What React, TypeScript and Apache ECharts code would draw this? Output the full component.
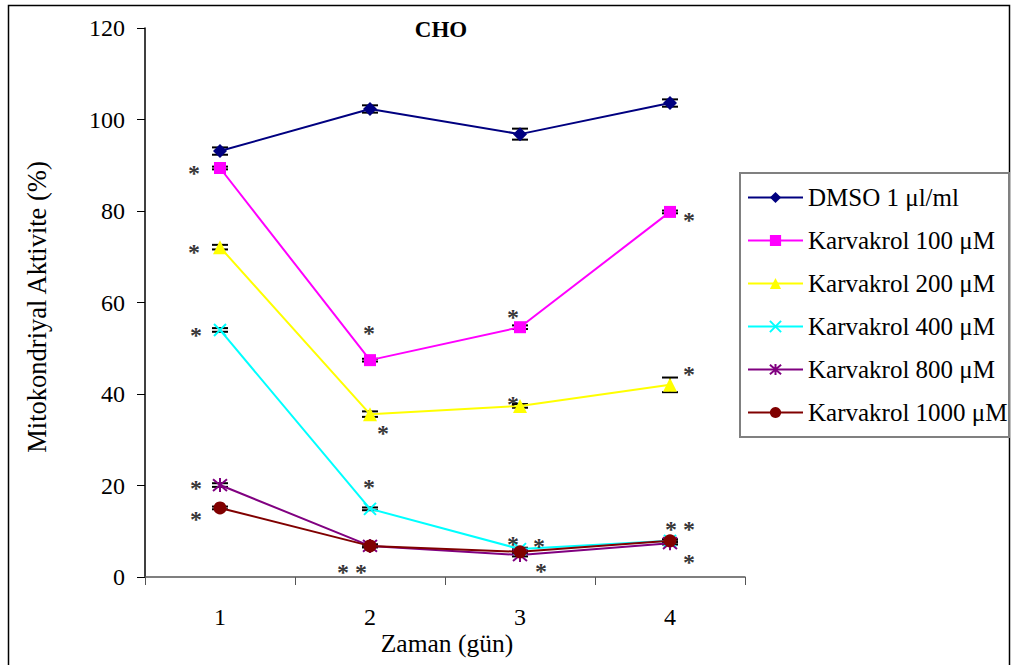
import React, { useEffect, useRef } from "react";
import * as echarts from "echarts";

// Days of measurement
const days = ["1", "2", "3", "4"];

// Series names
const seriesNames = [
  "DMSO 1 μl/ml",
  "Karvakrol 100 μM",
  "Karvakrol 200 μM",
  "Karvakrol 400 μM",
  "Karvakrol 800 μM",
  "Karvakrol 1000 μM",
];

// Mitochondrial activity (%) per day
const dmso = [93.1, 102.3, 96.8, 103.6];
const k100 = [89.4, 47.4, 54.6, 79.8];
const k200 = [72.1, 35.6, 37.4, 42.0];
const k400 = [54.0, 14.9, 6.1, 7.9];
const k800 = [20.1, 6.8, 4.8, 7.4];
const k1000 = [15.1, 6.8, 5.5, 7.9];

// Standard errors per day
const dmsoErr = [0.8, 0.8, 1.2, 0.8];
const k100Err = [0.3, 0.3, 0.4, 0.3];
const k200Err = [0.5, 0.6, 0.4, 1.6];
const k400Err = [0.4, 0.3, 0.3, 0.3];
const k800Err = [0.4, 0.3, 0.3, 0.3];
const k1000Err = [0.3, 0.3, 0.3, 0.3];

// Y axis ticks
const yMin = 0;
const yMax = 120;
const yStep = 20;

const values = [dmso, k100, k200, k400, k800, k1000];
const errors = [dmsoErr, k100Err, k200Err, k400Err, k800Err, k1000Err];

// Significance marks: day index, series index the mark sits next to, pixel offset
const stars: { day: number; s: number; dx: number; dy: number }[] = [
  { day: 0, s: 1, dx: -26, dy: -1 },
  { day: 0, s: 2, dx: -26, dy: -1 },
  { day: 0, s: 3, dx: -24, dy: -1 },
  { day: 0, s: 4, dx: -24, dy: -3 },
  { day: 0, s: 5, dx: -24, dy: 5 },
  { day: 1, s: 1, dx: -1, dy: -33 },
  { day: 1, s: 2, dx: 13, dy: 13 },
  { day: 1, s: 3, dx: -1, dy: -28 },
  { day: 1, s: 4, dx: -27, dy: 20 },
  { day: 1, s: 5, dx: -9, dy: 20 },
  { day: 2, s: 1, dx: -7, dy: -16 },
  { day: 2, s: 2, dx: -7, dy: -8 },
  { day: 2, s: 3, dx: -7, dy: -11 },
  { day: 2, s: 5, dx: 19, dy: -12 },
  { day: 2, s: 4, dx: 21, dy: 10 },
  { day: 3, s: 1, dx: 19, dy: 2 },
  { day: 3, s: 2, dx: 19, dy: -17 },
  { day: 3, s: 3, dx: 1, dy: -18 },
  { day: 3, s: 3, dx: 19, dy: -18 },
  { day: 3, s: 4, dx: 19, dy: 13 },
];

const colors = ["#000080", "#FF00FF", "#FFFF00", "#00FFFF", "#800080", "#800000"];
const symbols = [
  "diamond",
  "rect",
  "triangle",
  "path://M0,0L10,10M10,0L0,10",
  "path://M5,0L5,10M0.8,0.8L9.2,9.2M9.2,0.8L0.8,9.2",
  "circle",
];
const symbolSizes = [14, 12, 14, 12, 14, 13];

const FONT = "'Liberation Serif', 'Times New Roman', serif";

export default function App() {
  const ref = useRef<HTMLDivElement>(null);

  useEffect(() => {
    if (!ref.current) return;
    const chart = echarts.init(ref.current, undefined, { renderer: "svg" });

    const lineSeries = seriesNames.map((name, s) => ({
      type: "line",
      name,
      data: values[s],
      z: 3,
      symbol: symbols[s],
      symbolSize: symbolSizes[s],
      showSymbol: true,
      lineStyle: { color: colors[s], width: 2 },
      itemStyle: {
        color: colors[s],
        borderColor: colors[s],
        borderWidth: s === 3 || s === 4 ? 2 : 0,
      },
      emphasis: { disabled: true },
    }));

    const errorSeries = seriesNames.map((_, s) => ({
      type: "custom",
      z: 2,
      silent: true,
      data: values[s].map((v, i) => [i, v - errors[s][i], v + errors[s][i]]),
      encode: { x: 0, y: [1, 2] },
      renderItem: (_p: any, api: any) => {
        const i = api.value(0);
        const top = api.coord([i, api.value(2)]);
        const bot = api.coord([i, api.value(1)]);
        const x = top[0];
        const hw = 8;
        const st = { stroke: "#000", lineWidth: 2 };
        return {
          type: "group",
          children: [
            { type: "line", shape: { x1: x, y1: top[1], x2: x, y2: bot[1] }, style: st },
            { type: "line", shape: { x1: x - hw, y1: top[1], x2: x + hw, y2: top[1] }, style: st },
            { type: "line", shape: { x1: x - hw, y1: bot[1], x2: x + hw, y2: bot[1] }, style: st },
          ],
        };
      },
    }));

    const starSeries = {
      type: "scatter",
      z: 4,
      silent: true,
      symbolSize: 1,
      itemStyle: { color: "rgba(0,0,0,0)" },
      data: stars.map((m) => ({
        value: [m.day, values[m.s][m.day]],
        label: { offset: [m.dx, m.dy + 6] },
      })),
      label: {
        show: true,
        position: "inside",
        formatter: "*",
        color: "#000",
        textBorderWidth: 0,
        textBorderColor: "transparent",
        fontSize: 24,
        lineHeight: 14,
        fontWeight: "bold",
        fontFamily: FONT,
      },
    };

    chart.setOption({
      animation: false,
      grid: { left: 145, top: 28, width: 600, height: 549, containLabel: false },
      xAxis: {
        type: "category",
        data: days,
        boundaryGap: true,
        axisLine: { lineStyle: { color: "#555", width: 1.5 } },
        axisTick: { show: true, length: 8, inside: false, lineStyle: { color: "#555" } },
        axisLabel: { color: "#000", fontSize: 24, fontFamily: FONT, margin: 28 },
        splitLine: { show: false },
      },
      yAxis: {
        type: "value",
        min: yMin,
        max: yMax,
        interval: yStep,
        axisLine: { show: true, lineStyle: { color: "#000", width: 1.5 } },
        axisTick: { show: true, length: 8, lineStyle: { color: "#000" } },
        axisLabel: { color: "#000", fontSize: 24, fontFamily: FONT, margin: 20 },
        splitLine: { show: false },
      },
      legend: {
        data: seriesNames,
        orient: "vertical",
        left: 747,
        top: 185,
        itemWidth: 55,
        itemHeight: 14,
        itemGap: 18,
        padding: 0,
        selectedMode: false,
        textStyle: { color: "#000", fontSize: 25, fontFamily: FONT },
      },
      graphic: [
        {
          type: "rect",
          shape: { x: 8.5, y: 5.5, width: 1001, height: 700 },
          style: { fill: "none", stroke: "#000", lineWidth: 1.5 },
          silent: true,
          z: 0,
        },
        {
          type: "rect",
          shape: { x: 740, y: 173, width: 269, height: 264 },
          style: { fill: "#fff", stroke: "#808080", lineWidth: 2 },
          silent: true,
          z: 0,
        },
        {
          type: "text",
          x: 441,
          y: 29,
          style: {
            text: "CHO",
            fontSize: 23,
            fontWeight: "bold",
            fontFamily: FONT,
            fill: "#000",
            align: "center",
            verticalAlign: "middle",
          },
        },
        {
          type: "text",
          x: 37,
          y: 307,
          rotation: Math.PI / 2,
          style: {
            text: "Mitokondriyal Aktivite (%)",
            fontSize: 26.5,
            fontFamily: FONT,
            fill: "#000",
            align: "center",
            verticalAlign: "middle",
          },
        },
        {
          type: "text",
          x: 447,
          y: 643,
          style: {
            text: "Zaman (gün)",
            fontSize: 25.5,
            fontFamily: FONT,
            fill: "#000",
            align: "center",
            verticalAlign: "middle",
          },
        },
      ],
      series: [...errorSeries, ...lineSeries, starSeries],
    });

    return () => chart.dispose();
  }, []);

  return (
    <div
      ref={ref}
      style={{ position: "absolute", left: 0, top: 0, width: 1012, height: 665, background: "#fff" }}
    />
  );
}
